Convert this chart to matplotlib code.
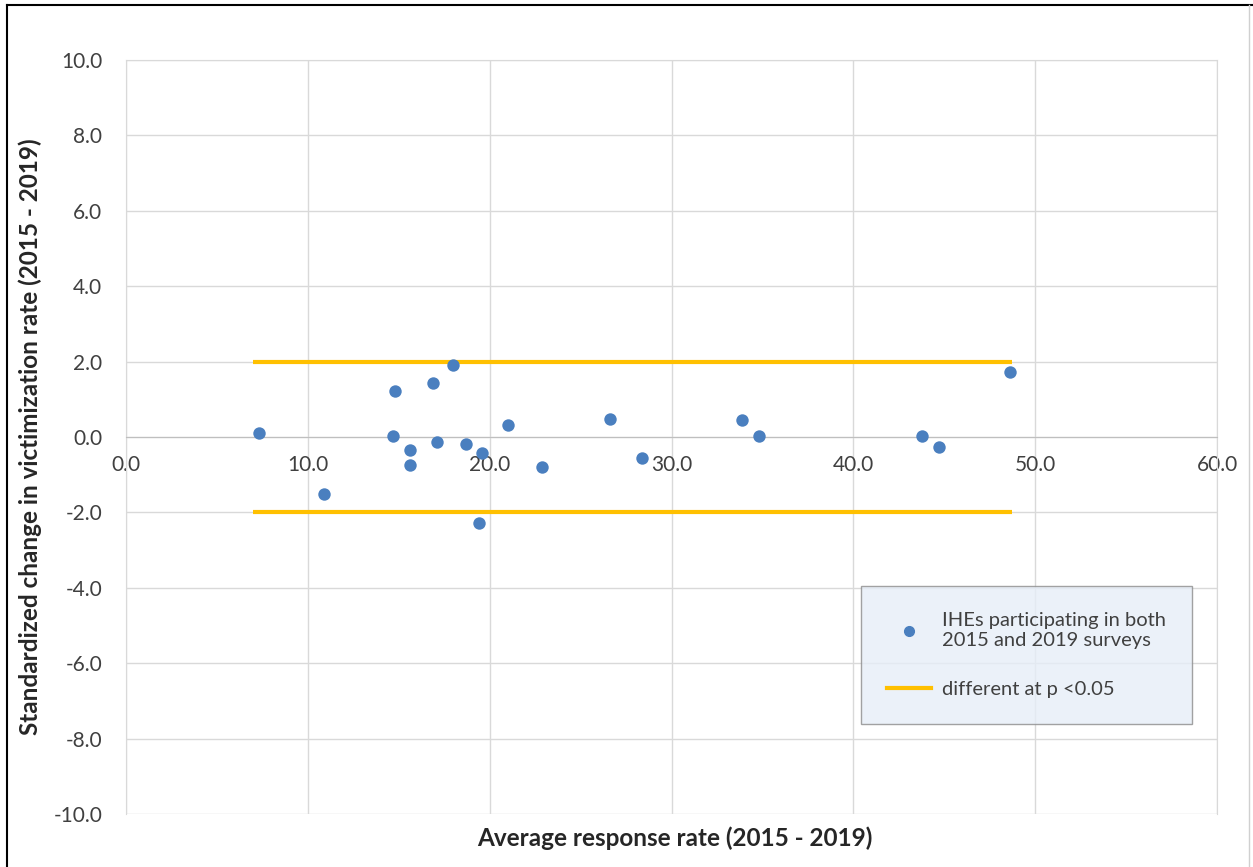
import matplotlib.pyplot as plt
from matplotlib.lines import Line2D

# Average response rate (2015 - 2019) per institution
response_rate = [7.3, 10.9, 14.8, 14.7, 15.6, 15.6, 16.9, 17.1, 18.0, 18.7,
                 19.6, 19.4, 21.0, 22.9, 26.6, 28.4, 33.9, 34.8, 43.8, 44.7, 48.6]
# Standardized change in victimization rate (2015 - 2019)
std_change = [0.1, -1.5, 1.23, 0.03, -0.34, -0.74, 1.44, -0.12, 1.91, -0.19,
              -0.43, -2.29, 0.32, -0.80, 0.48, -0.55, 0.45, 0.03, 0.03, -0.27, 1.73]

# significance bounds
bound_x = [7.0, 48.7]
bound_upper = [2.0, 2.0]
bound_lower = [-2.0, -2.0]

x_ticks = [0, 10, 20, 30, 40, 50, 60]
y_ticks = [-10, -8, -6, -4, -2, 0, 2, 4, 6, 8, 10]

plt.rcParams['font.family'] = ['Lato', 'DejaVu Sans']

fig = plt.figure(figsize=(12.53, 8.67), dpi=100)
ax = fig.add_axes([126 / 1253, 1 - 814 / 867, (1217 - 126) / 1253, (814 - 60) / 867])

point_color = '#4a7fbf'
line_color = '#ffc000'
grid_color = '#d9d9d9'

ax.scatter(response_rate, std_change, s=80, color=point_color, zorder=4, linewidths=0)
ax.plot(bound_x, bound_upper, color=line_color, lw=3, zorder=3, solid_capstyle='butt')
ax.plot(bound_x, bound_lower, color=line_color, lw=3, zorder=3, solid_capstyle='butt')

ax.set_xlim(0, 60)
ax.set_ylim(-10, 10)
ax.set_xticks(x_ticks)
ax.set_yticks(y_ticks)
ax.set_xticklabels([f'{v:.1f}' for v in x_ticks])
ax.set_yticklabels([f'{v:.1f}' for v in y_ticks])
ax.grid(True, color=grid_color, lw=1, zorder=0)
ax.set_axisbelow(True)

for side in ['top', 'right', 'left']:
    ax.spines[side].set_color(grid_color)
ax.spines['bottom'].set_position(('data', 0))
ax.spines['bottom'].set_color('#bfbfbf')

ax.tick_params(axis='x', length=0, pad=13, labelsize=15, labelcolor='#404040')
ax.tick_params(axis='y', length=0, pad=17, labelsize=15, labelcolor='#404040')

fig.text(675 / 1253, 1 - 838 / 867, 'Average response rate (2015 - 2019)',
         ha='center', va='center', fontsize=17.5, fontweight='bold', color='#262626')
fig.text(30 / 1253, 1 - 437 / 867, 'Standardized change in victimization rate (2015 - 2019)',
         ha='center', va='center', rotation=90, fontsize=17.5, fontweight='bold', color='#262626')

handles = [
    Line2D([], [], marker='o', linestyle='none', color=point_color, markersize=7),
    Line2D([], [], color=line_color, lw=3),
]
labels = ['IHEs participating in both\n2015 and 2019 surveys', 'different at p <0.05']
leg = fig.legend(handles, labels, loc='upper left',
                 bbox_to_anchor=(861 / 1253, 1 - 586 / 867), bbox_transform=fig.transFigure,
                 borderaxespad=0, fontsize=14.5, frameon=True, fancybox=False,
                 labelspacing=1.6, borderpad=1.3, handlelength=2.2, handletextpad=0.5,
                 labelcolor='#404040')
leg.get_frame().set_facecolor('#e6eef8')
leg.get_frame().set_edgecolor('#8c8c8c')
leg.get_frame().set_linewidth(1)

# outer frame
fig.add_artist(Line2D([7 / 1253, 7 / 1253], [0, 1 - 5 / 867], transform=fig.transFigure, color='black', lw=1.5))
fig.add_artist(Line2D([7 / 1253, 1], [1 - 5 / 867, 1 - 5 / 867], transform=fig.transFigure, color='black', lw=1.5))
fig.add_artist(Line2D([1249 / 1253, 1249 / 1253], [0, 1 - 5 / 867], transform=fig.transFigure, color='#d0d0d0', lw=1))

fig.savefig('out.png', dpi=100)
